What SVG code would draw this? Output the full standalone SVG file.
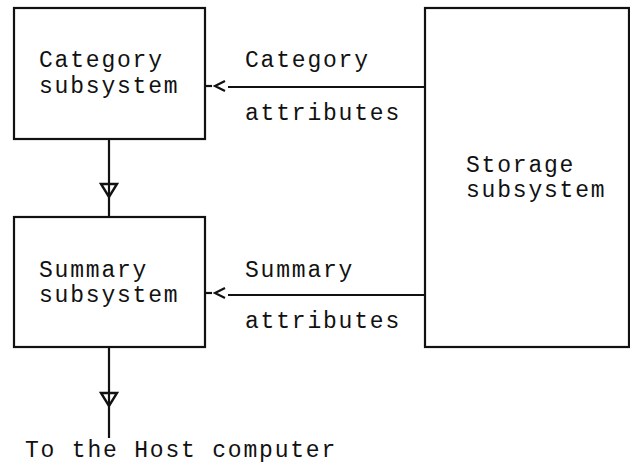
<svg xmlns="http://www.w3.org/2000/svg" width="630" height="463" viewBox="0 0 630 463">
  <style>
    .box { fill: #fff; stroke: #111; stroke-width: 2.2; }
    .line { fill: none; stroke: #111; stroke-width: 2.2; }
    .head { fill: none; stroke: #111; stroke-width: 2.4; stroke-linejoin: miter; }
    .chev { fill: none; stroke: #111; stroke-width: 2.2; }
    text { font-family: "Liberation Mono", "Courier New", monospace; font-size: 23px; letter-spacing: 1.8px; fill: #111; }
  </style>
  <rect width="630" height="463" fill="#fff"/>

  <g id="category">
    <rect class="box" x="14" y="8" width="191" height="131"/>
    <text x="39" y="67">Category</text>
    <text x="39" y="93">subsystem</text>
  </g>

  <g id="summary">
    <rect class="box" x="14" y="217" width="191" height="130"/>
    <text x="39" y="277">Summary</text>
    <text x="39" y="302">subsystem</text>
  </g>

  <g id="storage">
    <rect class="box" x="425" y="8" width="204" height="339"/>
    <text x="466" y="172">Storage</text>
    <text x="466" y="197">subsystem</text>
  </g>

  <g id="host">
    <text x="25" y="457">To the Host computer</text>
  </g>

  <g id="connectors">
    <!-- storage to category -->
    <line class="line" x1="425" y1="87" x2="228" y2="87"/>
    <line class="line" x1="205" y1="86" x2="212" y2="86"/>
    <polyline class="chev" points="225,81 215,86 225,91"/>
    <text x="245" y="67">Category</text>
    <text x="245" y="120">attributes</text>

    <!-- storage to summary -->
    <line class="line" x1="425" y1="295" x2="228" y2="295"/>
    <line class="line" x1="205" y1="293" x2="212" y2="293"/>
    <polyline class="chev" points="225,288 215,293 225,298"/>
    <text x="245" y="277">Summary</text>
    <text x="245" y="328">attributes</text>

    <!-- category to summary -->
    <line class="line" x1="109" y1="139" x2="109" y2="217"/>
    <polygon class="head" points="101,184 117,184 109,197"/>

    <!-- summary to host -->
    <line class="line" x1="109" y1="347" x2="109" y2="438"/>
    <polygon class="head" points="101,393 117,393 109,406"/>
  </g>
</svg>
